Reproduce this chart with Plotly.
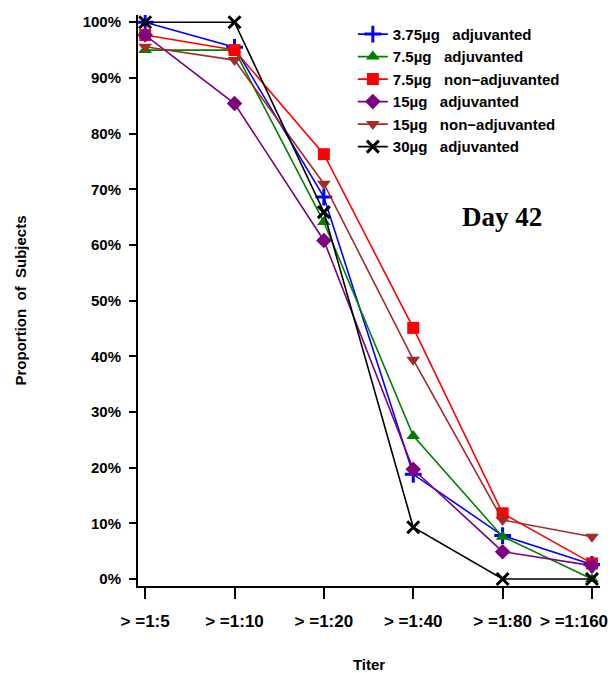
import plotly.graph_objects as go

# Titer thresholds on the x axis
titers = ["> =1:5", "> =1:10", "> =1:20", "> =1:40", "> =1:80", "> =1:160"]

# Proportion of subjects (%) reaching each titer, per dose group
dose_375_adj = [100.0, 95.5, 68.6, 18.8, 7.8, 2.6]
dose_75_adj = [95.0, 95.0, 64.1, 25.7, 7.6, 0.0]
dose_75_non = [97.7, 95.0, 76.3, 45.1, 11.8, 2.8]
dose_15_adj = [97.7, 85.4, 60.8, 19.7, 4.9, 2.4]
dose_15_non = [95.6, 93.2, 71.0, 39.4, 10.6, 7.6]
dose_30_adj = [100.0, 100.0, 65.9, 9.3, 0.0, 0.0]

y_ticks = [0, 10, 20, 30, 40, 50, 60, 70, 80, 90, 100]

gap = "\u00a0" * 3
series = [
    (f"3.75µg{gap}adjuvanted", dose_375_adj, "#0000FF", "cross-thin", 12, 3),
    (f"7.5µg{gap}adjuvanted", dose_75_adj, "#008000", "triangle-up", 12, 0),
    (f"7.5µg{gap}non−adjuvanted", dose_75_non, "#FF0000", "square", 12, 0),
    (f"15µg{gap}adjuvanted", dose_15_adj, "#800080", "diamond", 12, 0),
    (f"15µg{gap}non−adjuvanted", dose_15_non, "#A52A2A", "triangle-down", 12, 0),
    (f"30µg{gap}adjuvanted", dose_30_adj, "#000000", "x-thin", 12, 3),
]

fig = go.Figure()
x_idx = list(range(len(titers)))
for name, vals, color, symbol, size, lw in series:
    fig.add_trace(go.Scatter(
        x=x_idx, y=vals, name=name, mode="lines+markers",
        line=dict(color=color, width=1.6),
        marker=dict(symbol=symbol, size=size, color=color,
                    line=dict(color=color, width=lw)),
    ))

tick_font = dict(family="Liberation Sans", size=17, color="black", weight="bold")

# the last titer label is pulled left so it fits inside the page
tick_text = titers[:-1] + [""]
last_label = dict(
    text=titers[-1], xref="x", yref="paper", x=x_idx[-1], y=-0.0630,
    xanchor="center", yanchor="middle", xshift=-18, showarrow=False,
    font=tick_font,
)

fig.update_layout(
    width=613, height=673,
    margin=dict(l=138, r=13, t=15, b=87),
    paper_bgcolor="white", plot_bgcolor="white",
    showlegend=True,
    legend=dict(
        x=0.465, y=0.995, xanchor="left", yanchor="top",
        font=dict(family="Liberation Sans", size=15, color="black", weight="bold"),
        bgcolor="rgba(0,0,0,0)", tracegroupgap=0,
    ),
    xaxis=dict(
        range=[-0.08, 5.09], tickmode="array", tickvals=x_idx, ticktext=tick_text,
        automargin=False, tickangle=0,
        showline=True, linecolor="black", linewidth=2,
        ticks="outside", ticklen=11, tickwidth=2, tickcolor="black",
        ticklabelstandoff=8,
        showgrid=False, zeroline=False,
        tickfont=tick_font,
        title=dict(text="Titer", standoff=36,
                   font=dict(family="Liberation Sans", size=15, color="black", weight="bold")),
    ),
    yaxis=dict(
        range=[-1.26, 101.3], tickmode="array", tickvals=y_ticks,
        ticktext=[f"{v}%" for v in y_ticks],
        automargin=False,
        showline=True, linecolor="black", linewidth=2,
        ticks="outside", ticklen=7, tickwidth=2, tickcolor="black",
        ticklabelstandoff=5,
        showgrid=False, zeroline=False,
        tickfont=dict(family="Liberation Sans", size=15, color="black", weight="bold"),
        title=dict(text="Proportion\u00a0 of\u00a0 Subjects", standoff=52,
                   font=dict(family="Liberation Sans", size=15, color="black", weight="bold")),
    ),
    annotations=[
        dict(
            text="<b>Day 42</b>", xref="paper", yref="paper",
            x=0.787, y=0.6457, xanchor="center", yanchor="middle", showarrow=False,
            font=dict(family="Liberation Serif", size=27, color="black"),
        ),
        last_label,
    ],
)

fig.write_html("out.html")
